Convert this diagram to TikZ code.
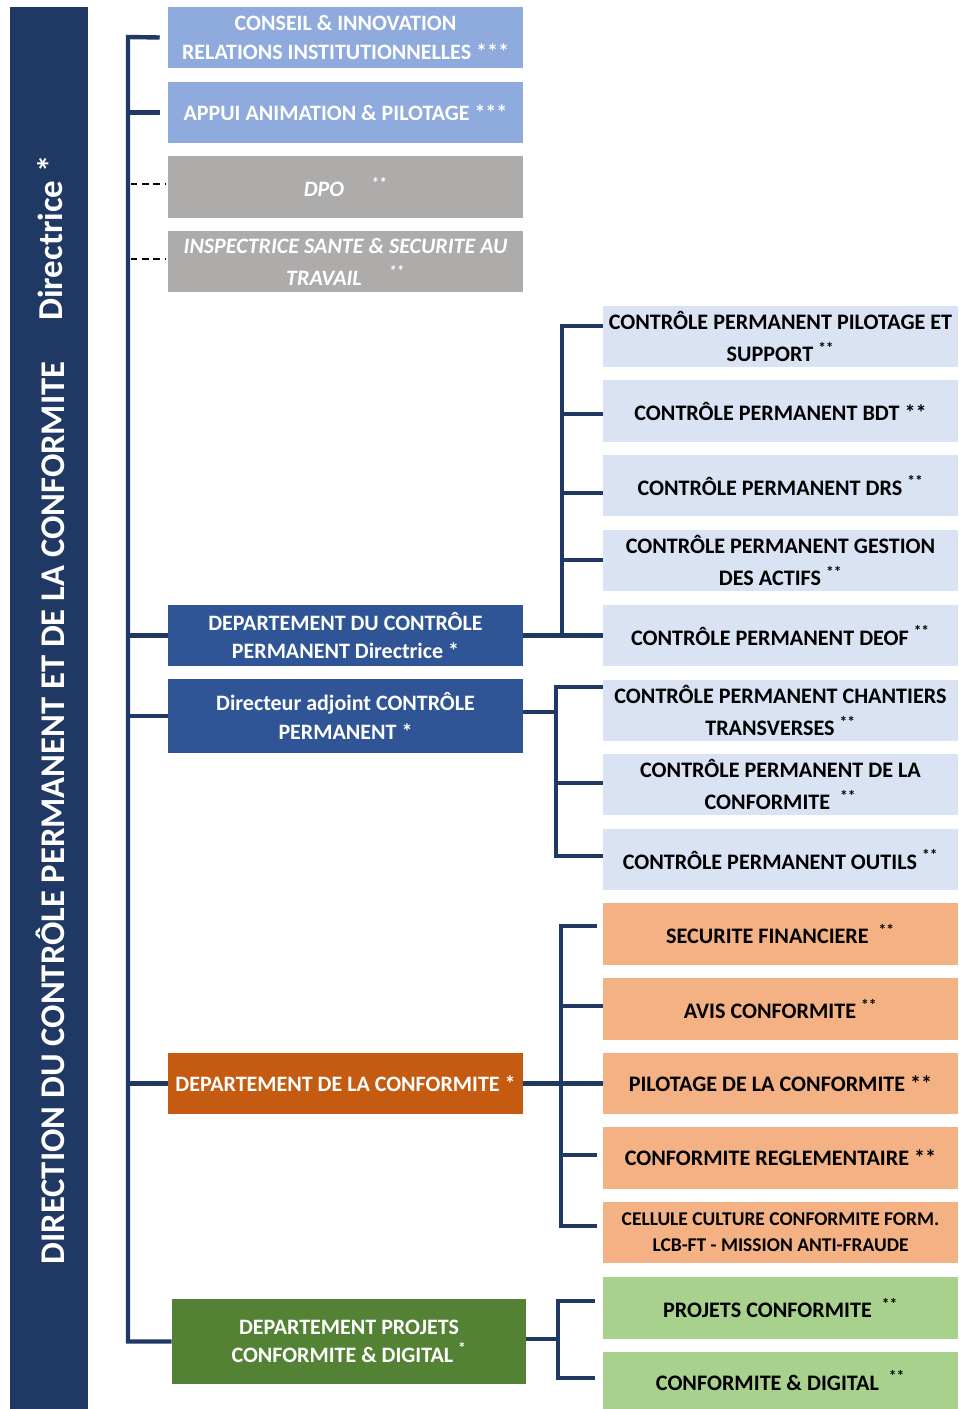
\documentclass[tikz,border=0pt]{standalone}
\usepackage{fontspec}
\usepackage{graphicx}
\setmainfont{Carlito}
\usetikzlibrary{calc}
\definecolor{navy}{HTML}{203864}
\definecolor{lblue}{HTML}{8FAADC}
\definecolor{lgray}{HTML}{AEABAB}
\definecolor{dblue}{HTML}{2F5597}
\definecolor{pblue}{HTML}{DAE3F3}
\definecolor{dorange}{HTML}{C55A11}
\definecolor{lorange}{HTML}{F4B183}
\definecolor{dgreen}{HTML}{548235}
\definecolor{lgreen}{HTML}{A9D18E}
\tikzset{
  lbox/.style={rectangle, inner sep=0pt, minimum width=266.25pt, minimum height=46pt, align=center, text=white, font=\bfseries\fontsize{16.5}{21.5}\selectfont},
  rbox/.style={rectangle, inner sep=0pt, minimum width=266.25pt, minimum height=46pt, align=center, text=black, font=\bfseries\fontsize{16.6}{24}\selectfont},
  conn/.style={draw=navy, line width=3.3pt},
  dashtick/.style={draw=black, line width=1.1pt, dash pattern=on 5pt off 3.5pt},
}
\newcommand{\sps}{\textsuperscript{**}}
\begin{document}
\begin{tikzpicture}[x=0.75pt,y=-0.75pt]
\useasboundingbox (0,0) rectangle (958,1409);
% left title bar
\fill[navy] (10,7) rectangle (88,1409);
\node[rotate=90, text=white, font=\bfseries, inner sep=0pt] (title) at (50,813) {\resizebox{677pt}{!}{DIRECTION DU CONTRÔLE PERMANENT ET DE LA CONFORMITE}};
\node[rotate=90, text=white, font=\bfseries, inner sep=0pt] (dir) at (50,238) {\resizebox{124pt}{!}{Directrice *}};
% left column
\node[lbox, fill=lblue] (conseil) at (345.5,37.5) {CONSEIL \& INNOVATION\\RELATIONS INSTITUTIONNELLES ***};
\node[lbox, fill=lblue] (appui) at (345.5,112.5) {APPUI ANIMATION \& PILOTAGE ***};
\node[lbox, fill=lgray, font=\bfseries\itshape\fontsize{16.5}{24}\selectfont] (dpo) at (345.5,187) {DPO \quad\sps};
\node[lbox, fill=lgray, font=\bfseries\itshape\fontsize{16.5}{24}\selectfont] (insp) at (345.5,261.5) {INSPECTRICE SANTE \& SECURITE AU\\TRAVAIL \quad\sps};
\node[lbox, fill=dblue] (dcp) at (345.5,635.5) {DEPARTEMENT DU CONTRÔLE\\PERMANENT Directrice *};
\node[lbox, fill=dblue, minimum height=55.5pt] (dadj) at (345.5,716) {Directeur adjoint CONTRÔLE\\PERMANENT *};
\node[lbox, fill=dorange] (dconf) at (345.5,1083.5) {DEPARTEMENT DE LA CONFORMITE *};
\node[lbox, fill=dgreen, minimum width=265.5pt, minimum height=63.75pt, font=\bfseries\fontsize{16.5}{20.5}\selectfont] (dproj) at (349,1341.5) {DEPARTEMENT PROJETS\\CONFORMITE \& DIGITAL \textsuperscript{*}};
% right column: controle permanent
\node[rbox, fill=pblue] (r1) at (780.5,336.5) {CONTRÔLE PERMANENT PILOTAGE ET\\SUPPORT \sps};
\node[rbox, fill=pblue] (r2) at (780.5,411) {CONTRÔLE PERMANENT BDT **};
\node[rbox, fill=pblue] (r3) at (780.5,485.5) {CONTRÔLE PERMANENT DRS \sps};
\node[rbox, fill=pblue] (r4) at (780.5,560.5) {CONTRÔLE PERMANENT GESTION\\DES ACTIFS \sps};
\node[rbox, fill=pblue] (r5) at (780.5,635.5) {CONTRÔLE PERMANENT DEOF \sps};
\node[rbox, fill=pblue] (c1) at (780.5,710.5) {CONTRÔLE PERMANENT CHANTIERS\\TRANSVERSES \sps};
\node[rbox, fill=pblue] (c2) at (780.5,784.5) {CONTRÔLE PERMANENT DE LA\\CONFORMITE \ \sps};
\node[rbox, fill=pblue] (c3) at (780.5,859.5) {CONTRÔLE PERMANENT OUTILS \sps};
% conformite
\node[rbox, fill=lorange] (o1) at (780.5,934) {SECURITE FINANCIERE \ \sps};
\node[rbox, fill=lorange] (o2) at (780.5,1009) {AVIS CONFORMITE \sps};
\node[rbox, fill=lorange] (o3) at (780.5,1083.5) {PILOTAGE DE LA CONFORMITE **};
\node[rbox, fill=lorange] (o4) at (780.5,1158) {CONFORMITE REGLEMENTAIRE **};
\node[rbox, fill=lorange, font=\bfseries\fontsize{14.6}{19.5}\selectfont] (o5) at (780.5,1232.5) {CELLULE CULTURE CONFORMITE FORM.\\LCB-FT - MISSION ANTI-FRAUDE};
% projets
\node[rbox, fill=lgreen] (g1) at (780.5,1308) {PROJETS CONFORMITE \ \sps};
\node[rbox, fill=lgreen, minimum height=42.75pt] (g2) at (780.5,1380.5) {CONFORMITE \& DIGITAL \ \sps};
% main spine
\coordinate (mtop) at (128,37);
\coordinate (mbot) at (128,1341.5);
\draw[conn] ([xshift=-6pt]conseil.west) -- (mtop) -- (mbot) -- (dproj.west);
\draw[conn] (mtop |- appui.west) -- ([xshift=-6pt]appui.west);
\draw[conn] (mtop |- dcp.west) -- (dcp.west);
\draw[conn] (mtop |- dadj.west) -- (dadj.west);
\draw[conn] (mtop |- dconf.west) -- (dconf.west);
\draw[dashtick] ([xshift=2pt]mtop |- 0,184) -- ([xshift=-2pt]dpo.west |- 0,184);
\draw[dashtick] ([xshift=2pt]mtop |- 0,259) -- ([xshift=-2pt]insp.west |- 0,259);
% bracket 1
\coordinate (a1) at (562,326);
\coordinate (a2) at (562,414);
\coordinate (a3) at (562,493);
\coordinate (a4) at (562,560);
\coordinate (a5) at (562,635.5);
\draw[conn] (dcp.east) -- (r5.west);
\draw[conn] (a1 -| r1.west) -- (a1) -- (a5);
\draw[conn] (a2) -- (a2 -| r2.west);
\draw[conn] (a3) -- (a3 -| r3.west);
\draw[conn] (a4) -- (a4 -| r4.west);
% bracket 2
\coordinate (b0) at (556,712);
\coordinate (b1) at (556,687);
\coordinate (b2) at (556,783);
\coordinate (b3) at (556,856);
\draw[conn] (dadj.east |- b0) -- (b0);
\draw[conn] (b1 -| c1.west) -- (b1) -- (b3) -- (b3 -| c3.west);
\draw[conn] (b2) -- (b2 -| c2.west);
% bracket 3
\coordinate (d1) at (561,926);
\coordinate (d2) at (561,1006);
\coordinate (d4) at (561,1155);
\coordinate (d5) at (561,1226);
\draw[conn] (dconf.east) -- (o3.west);
\draw[conn] ([xshift=-4pt]d1 -| o1.west) -- (d1) -- (d5) -- ([xshift=-4pt]d5 -| o5.west);
\draw[conn] (d2) -- (d2 -| o2.west);
\draw[conn] (d4) -- ([xshift=-4pt]d4 -| o4.west);
% bracket 4
\coordinate (e0) at (558,1339);
\coordinate (e1) at (558,1301);
\coordinate (e2) at (558,1378);
\draw[conn] (dproj.east |- e0) -- (e0);
\draw[conn] ([xshift=-6pt]e1 -| g1.west) -- (e1) -- (e2) -- ([xshift=-6pt]e2 -| g2.west);
\end{tikzpicture}
\end{document}
